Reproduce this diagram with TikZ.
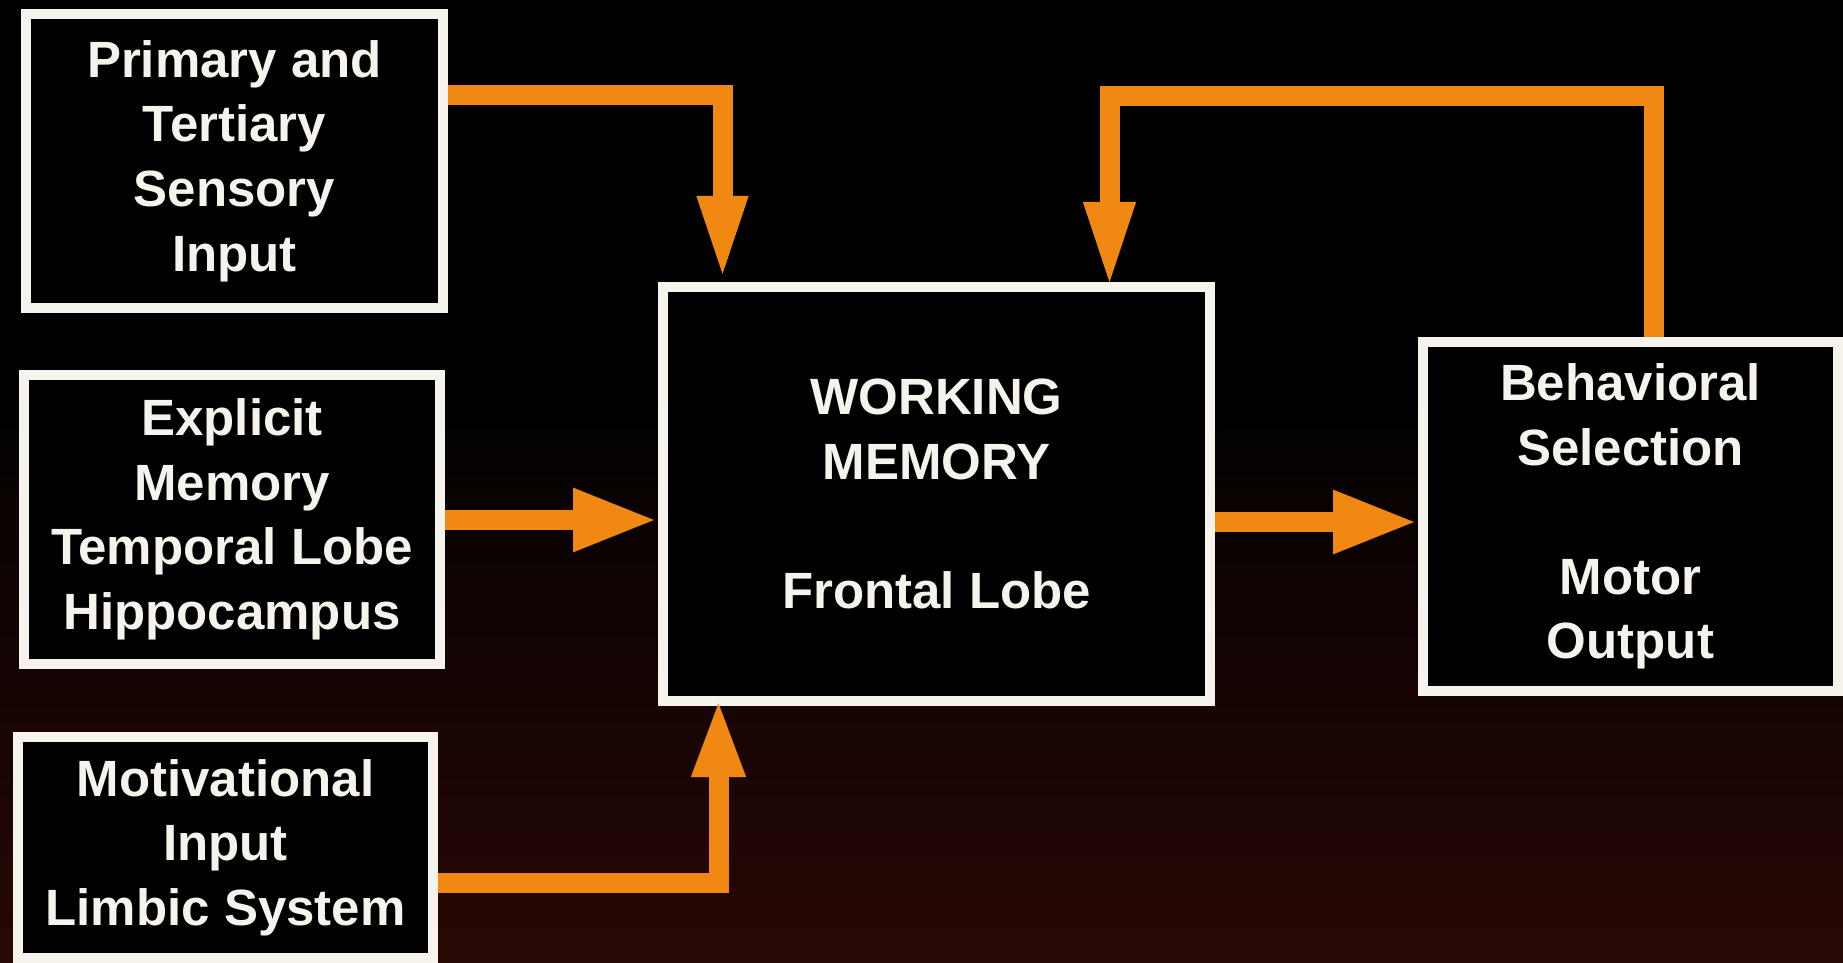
\documentclass[tikz,border=0pt]{standalone}
\usepackage{fontspec}
\setmainfont{Liberation Sans}
\usetikzlibrary{arrows.meta}
\definecolor{arrorange}{RGB}{240,136,18}
\definecolor{bgbrown}{RGB}{40,8,6}
\definecolor{txtwhite}{RGB}{246,243,236}
\begin{document}
\begin{tikzpicture}[x=0.5pt,y=-0.5pt,
  box/.style={draw=txtwhite, line width=5pt, fill=black, text=txtwhite,
    align=center, inner sep=0pt,
    font=\fontsize{25.5}{32.3}\selectfont\bfseries},
  arr/.style={draw=arrorange, line width=10pt, line join=miter},
  hhead/.style={-{Triangle[length=42.5pt,width=29pt]}},
]
\useasboundingbox (0,0) rectangle (1843,963);
\fill[black] (0,0) rectangle (1843,963);
\shade[top color=black, bottom color=bgbrown] (0,380) rectangle (1843,963);

% boxes
\node[box, minimum width=208.5pt, minimum height=147pt] (b1) at (234.5,161)
  {Primary and\\Tertiary\\Sensory\\Input};
\node[box, minimum width=208pt, minimum height=144.5pt] (b2) at (232,519.5)
  {Explicit\\Memory\\Temporal Lobe\\Hippocampus};
\node[box, minimum width=207.5pt, minimum height=110.5pt] (b3) at (225.5,847.5)
  {Motivational\\Input\\Limbic System};
\node[box, minimum width=273.5pt, minimum height=207pt] (wm) at (936.5,494)
  {WORKING\\MEMORY\\[32.3pt]Frontal Lobe};
\node[box, minimum width=207.5pt, minimum height=174.5pt] (beh) at (1630.5,516.5)
  {Behavioral\\Selection\\[32.3pt]Motor\\Output};

% bend coordinates
\coordinate (k1) at (722.5,95);
\coordinate (k2) at (0,520);
\coordinate (k3) at (718.5,883);
\coordinate (k4) at (0,522);
\coordinate (k5a) at (1653.5,96);
\coordinate (k5b) at (1109.5,96);

% connectors
\draw[arr, -{Triangle[length=43pt,width=22.5pt]}]
  (b1.east |- k1) -- (k1) -- (k1 |- wm.north);
\draw[arr, hhead]
  (b2.east |- k2) -- (wm.west |- k2);
\draw[arr, -{Triangle[length=40pt,width=24pt]}, shorten >=-4.5pt]
  (b3.east |- k3) -- (k3) -- (k3 |- wm.south);
\draw[arr, hhead]
  (wm.east |- k4) -- (beh.west |- k4);
\draw[arr, -{Triangle[length=44pt,width=23pt]}, shorten >=-4pt]
  (k5a |- beh.north) -- (k5a) -- (k5b) -- (k5b |- wm.north);
\end{tikzpicture}
\end{document}
